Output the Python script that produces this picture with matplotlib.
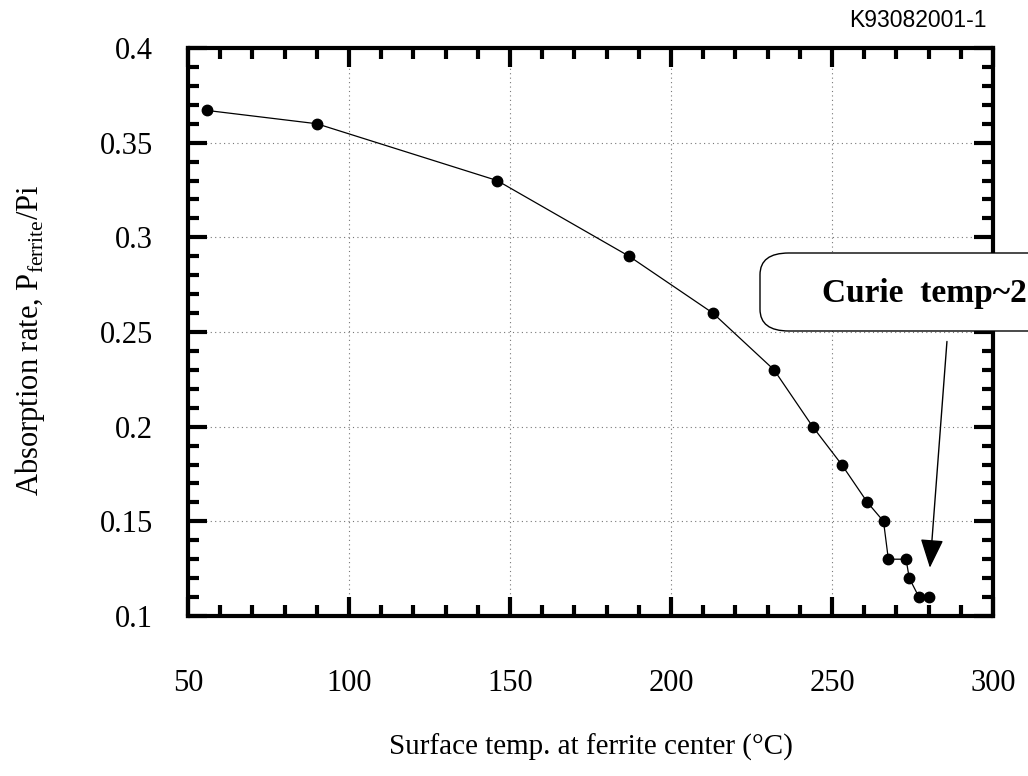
# ======================================================
# Absorption rate vs surface temperature (ferrite)
# ======================================================

import numpy as np
import matplotlib
matplotlib.use("Agg")
import matplotlib.pyplot as plt
from matplotlib.patches import FancyBboxPatch

plt.rcParams["font.family"] = ["Liberation Serif", "DejaVu Serif"]
plt.rcParams["mathtext.fontset"] = "custom"
plt.rcParams["mathtext.rm"] = "Liberation Serif"

# ======================================================
# Data
# ======================================================

temp = [56, 90, 146, 187, 213, 232, 244, 253, 261, 266, 267.5, 273, 274, 277, 280]
absorption = [0.367, 0.36, 0.33, 0.29, 0.26, 0.23, 0.20, 0.18, 0.16, 0.15,
              0.13, 0.13, 0.12, 0.11, 0.11]

x_ticks = [50, 100, 150, 200, 250, 300]
y_ticks = [0.1, 0.15, 0.2, 0.25, 0.3, 0.35, 0.4]
y_tick_labels = ["0.1", "0.15", "0.2", "0.25", "0.3", "0.35", "0.4"]

# ======================================================
# Figure
# ======================================================

fig = plt.figure(figsize=(10.28, 7.76), dpi=100)
ax = fig.add_axes([188 / 1028, 1 - 616 / 776, (993 - 188) / 1028, (616 - 48) / 776])

ax.plot(temp, absorption, color="black", lw=0.9, marker="o", ms=7.5,
        markerfacecolor="black", markeredgecolor="black", zorder=3)

ax.set_xlim(50, 300)
ax.set_ylim(0.1, 0.4)
ax.set_xticks(x_ticks)
ax.set_yticks(y_ticks)
ax.set_yticklabels(y_tick_labels)
ax.set_xticks(np.arange(50, 301, 10), minor=True)
ax.set_yticks(np.arange(0.1, 0.401, 0.01), minor=True)

ax.grid(True, which="major", color="#777777", linestyle=(0, (1, 3)), lw=0.8)

for s in ax.spines.values():
    s.set_linewidth(3)

ax.tick_params(which="both", direction="in", top=True, right=True,
               width=3, labelsize=22)
ax.tick_params(which="major", length=14)
ax.tick_params(which="minor", length=8)
ax.tick_params(axis="y", which="major", pad=25)
ax.tick_params(axis="x", which="major", pad=38)

ax.set_xlabel("Surface temp. at ferrite center (°C)", fontsize=21, labelpad=26)
ax.set_ylabel(r"Absorption rate, P$_{\mathrm{ferrite}}$/Pi", fontsize=22)
ax.yaxis.set_label_coords(-0.175, 0.486)

# ======================================================
# Annotation
# ======================================================

box = FancyBboxPatch((760 / 1028, 1 - 331 / 776), (1080 - 760) / 1028, (331 - 253) / 776,
                     boxstyle="round,pad=0,rounding_size=0.028",
                     transform=fig.transFigure, facecolor="white",
                     edgecolor="black", lw=1.0, zorder=5)
fig.add_artist(box)
fig.text(822 / 1028, 1 - 302 / 776, "Curie  temp~2", fontsize=24, fontweight="bold",
         ha="left", va="baseline", zorder=6)

ax.annotate("", xy=(280.4, 0.1255), xytext=(285.7, 0.245),
            arrowprops=dict(arrowstyle="-|>,head_length=0.9,head_width=0.36",
                            mutation_scale=20, lw=1.0, color="black",
                            shrinkA=0, shrinkB=0), zorder=6)

fig.text(987 / 1028, 1 - 27 / 776, "K93082001-1", fontsize=16.5,
         family=["Liberation Sans", "DejaVu Sans"], ha="right", va="baseline")

plt.savefig("out.png", dpi=100)
